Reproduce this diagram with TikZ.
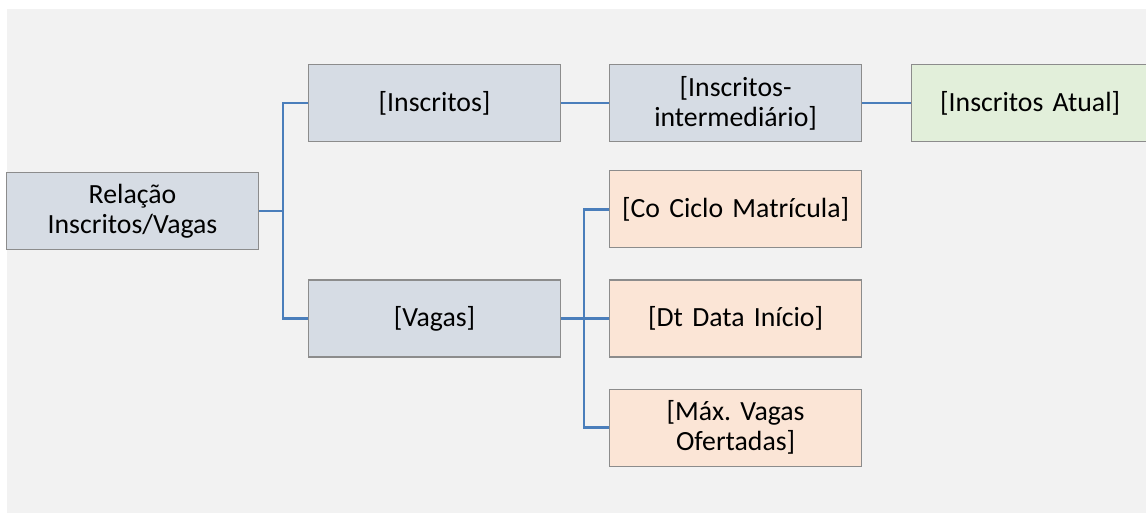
\documentclass[tikz,border=0pt]{standalone}
\usepackage{fontspec}
\setmainfont{Carlito}
\usepackage{tikz}
\usetikzlibrary{
  positioning,
  calc
}
\frenchspacing
\definecolor{sheetGray}{RGB}{242,242,242}
\definecolor{levelBlue}{RGB}{214,220,228}
\definecolor{leafPeach}{RGB}{251,229,214}
\definecolor{leafGreen}{RGB}{226,239,218}
\definecolor{edgeGray}{RGB}{140,140,140}
\definecolor{linkBlue}{RGB}{74,126,187}

\begin{document}
\begin{tikzpicture}[
  font=\fontsize{15.8}{17.2}\selectfont,
  node distance=0.98cm,
  %% Measure box (1-arg: fill colour)
  box/.style={
    rectangle,
    draw=edgeGray,
    fill=#1,
    line width=0.6pt,
    minimum width=5.04cm,
    minimum height=1.54cm,
    text width=4.7cm,
    inner sep=0pt,
    align=center
  },
  %% Tree connector
  link/.style={draw=linkBlue, line width=1.4pt}
]

%% ---- Canvas ----
\useasboundingbox (0,0) rectangle (22.92,-10.26);
\fill[sheetGray] (0.14,-0.18) rectangle (22.92,-10.26);

%% ---- Root ----
\node[box=levelBlue] (root) at (2.65,-4.22) {Relação\\Inscritos/Vagas};

%% ---- Level 1 ----
\node[box=levelBlue, right=of root, yshift=2.16cm]  (inscr) {[Inscritos]};
\node[box=levelBlue, right=of root, yshift=-2.15cm] (vagas) {[Vagas]};

%% ---- Level 2 (Inscritos chain) ----
\node[box=levelBlue, right=0.96cm of inscr] (inter)
  {[Inscritos-\\intermediário]};
\node[box=leafGreen, right=0.98cm of inter, minimum width=4.74cm,
  text width=4.5cm] (atual) {[Inscritos Atual]};

%% ---- Level 2 (Vagas fields) ----
\node[box=leafPeach, right=0.96cm of vagas] (data)  {[Dt Data Início]};
\node[box=leafPeach, above=0.62cm of data]  (ciclo) {[Co Ciclo Matrícula]};
\node[box=leafPeach, below=0.62cm of data]  (maxv)  {[Máx. Vagas\\Ofertadas]};

%% ---- Connectors ----
\coordinate (j1) at ($(root.east)+(0.48,0)$);
\coordinate (j2) at ($(vagas.east)+(0.46,0)$);

\draw[link] (root.east) -- (j1) |- (inscr.west);
\draw[link] (j1) |- (vagas.west);

\draw[link] (inscr.east) -- (inter.west);
\draw[link] (inter.east) -- (atual.west);

\draw[link] (vagas.east) -- (data.west);
\draw[link] (j2) |- (ciclo.west);
\draw[link] (j2) |- (maxv.west);

\end{tikzpicture}
\end{document}
